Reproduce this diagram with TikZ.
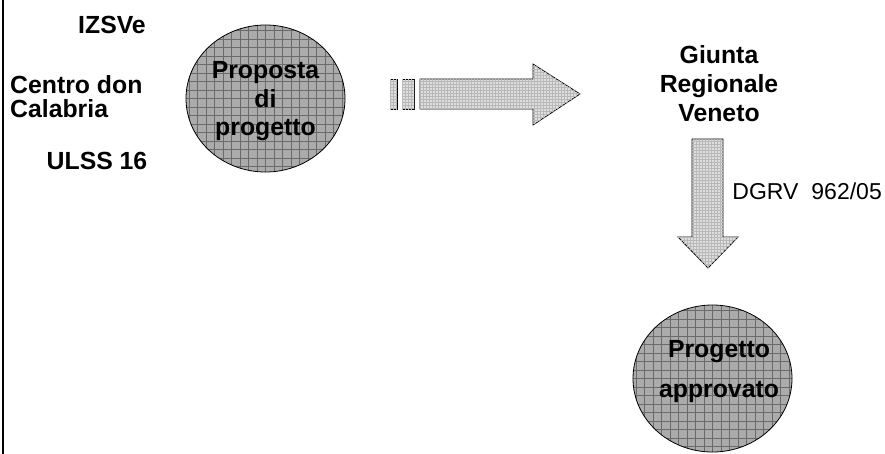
\documentclass[tikz,border=0pt]{standalone}
\usepackage{fontspec}
\setmainfont{Liberation Sans}
\usetikzlibrary{shapes.geometric,patterns}
\definecolor{bubblefill}{HTML}{ABABAB}
\definecolor{bubblegrid}{HTML}{6A6A6A}
\definecolor{arrowfill}{HTML}{DEDEDE}
\definecolor{arrowgrid}{HTML}{B8B8B8}
\tikzset{
  bubble/.style={ellipse, draw=black, line width=0.8pt, fill=bubblefill,
    minimum width=159pt, minimum height=147pt, inner sep=0pt,
    path picture={\draw[bubblegrid, line width=0.45pt]
      ([xshift=-4pt,yshift=-4pt]path picture bounding box.south west) grid[step=8.5pt]
      ([xshift=4pt,yshift=4pt]path picture bounding box.north east);}},
  bigarrow/.style={draw=black, line width=0.8pt, fill=arrowfill,
    postaction={pattern=grid, pattern color=arrowgrid}},
  lbl/.style={font=\bfseries\fontsize{24.8}{27}\selectfont, inner sep=0pt},
  plain/.style={font=\fontsize{23}{26}\selectfont, inner sep=0pt}
}
\begin{document}
\begin{tikzpicture}[x=1pt,y=-1pt]
\useasboundingbox (0,0) rectangle (885,453);
% left border
\draw[line width=2.5pt] (3,-2) -- (3,455);
% left labels
\node[lbl, anchor=base] (izs) at (112,33) {IZSVe};
\node[lbl, anchor=base west] (cdc1) at (10,93) {Centro don};
\node[lbl, anchor=base west] (cdc2) at (10,117) {Calabria};
\node[lbl, anchor=base] (ulss) at (97,169) {ULSS 16};
% circle 1
\node[bubble] (prop) at (265.5,98.5) {};
\node[lbl, anchor=base] (p1) at (265.5,78) {Proposta};
\node[lbl, anchor=base] (p2) at (265.5,107) {di};
\node[lbl, anchor=base] (p3) at (265.5,135) {progetto};
% right arrow
\draw[bigarrow] (390,79) rectangle (397,109);
\draw[bigarrow] (402,79) rectangle (414,109);
\draw[bigarrow] (420,79) -- (533,79) -- (533,64) -- (580,94) -- (533,125) -- (533,109) -- (420,109) -- cycle;
% Giunta
\node[lbl, anchor=base] (g1) at (719,63) {Giunta};
\node[lbl, anchor=base] (g2) at (719,92) {Regionale};
\node[lbl, anchor=base] (g3) at (719,121) {Veneto};
% down arrow
\draw[bigarrow] (692,139) -- (723,139) -- (723,237) -- (738,237) -- (708,268) -- (678,237) -- (692,237) -- cycle;
\node[plain, anchor=base east] (dgrv) at (882,199) {DGRV\hspace{13pt}962/05};
% circle 2
\node[bubble] (appr) at (712.5,378.5) {};
\node[lbl, anchor=base] (a1) at (719,357) {Progetto};
\node[lbl, anchor=base] (a2) at (719,397) {approvato};
\end{tikzpicture}
\end{document}
